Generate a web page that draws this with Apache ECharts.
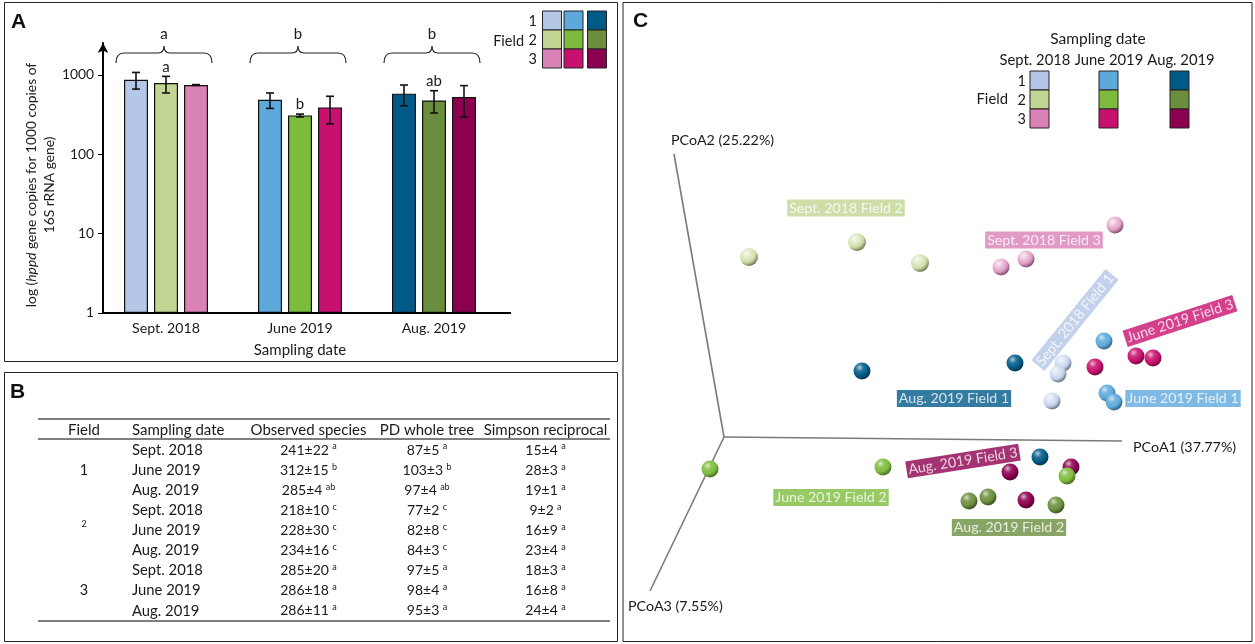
<!DOCTYPE html>
<html><head><meta charset="utf-8">
<script src="https://cdn.jsdelivr.net/npm/echarts@6/dist/echarts.min.js"></script>
<style>html,body{margin:0;padding:0;background:#fff}#c{width:1255px;height:644px}</style>
</head><body><div id="c"></div>
<script>
// ---------------- DATA ----------------
const dates = ['Sept. 2018', 'June 2019', 'Aug. 2019'];
const fields = ['1', '2', '3'];
// Panel A: hppd copies per 1000 16S copies (mean, error low, error high)
const field1Mean = [867, 484, 578];
const field1Low  = [660, 377, 407];
const field1High = [1070, 590, 743];
const field2Mean = [789, 308, 475];
const field2Low  = [590, 294, 330];
const field2High = [955, 320, 630];
const field3Mean = [743, 388, 525];
const field3Low  = [735, 241, 294];
const field3High = [752, 536, 730];
const field2Letters = ['a', 'b', 'ab'];
const dateLetters = ['a', 'b', 'b'];
const yTicks = [1, 10, 100, 1000];
// Panel B: alpha diversity table
const tableHeaders = ['Field', 'Sampling date', 'Observed species', 'PD whole tree', 'Simpson reciprocal'];
const tableDates = ['Sept. 2018', 'June 2019', 'Aug. 2019', 'Sept. 2018', 'June 2019', 'Aug. 2019', 'Sept. 2018', 'June 2019', 'Aug. 2019'];
const observedSpecies = ['241±22', '312±15', '285±4', '218±10', '228±30', '234±16', '285±20', '286±18', '286±11'];
const observedLetters = ['a', 'b', 'ab', 'c', 'c', 'c', 'a', 'a', 'a'];
const pdWholeTree = ['87±5', '103±3', '97±4', '77±2', '82±8', '84±3', '97±5', '98±4', '95±3'];
const pdLetters = ['a', 'b', 'ab', 'c', 'c', 'c', 'a', 'a', 'a'];
const simpsonReciprocal = ['15±4', '28±3', '19±1', '9±2', '16±9', '23±4', '18±3', '16±8', '24±4'];
const simpsonLetters = ['a', 'a', 'a', 'a', 'a', 'a', 'a', 'a', 'a'];
// Panel C: projected PCoA coordinates of the samples
const sept2018Field1 = [[3.39, 0.74], [3.34, 0.63], [3.28, 0.36]];
const sept2018Field2 = [[0.25, 1.80], [1.33, 1.95], [1.96, 1.74]];
const sept2018Field3 = [[2.77, 1.70], [3.02, 1.78], [3.91, 2.12]];
const june2019Field1 = [[3.80, 0.96], [3.83, 0.44], [3.90, 0.35]];
const june2019Field2 = [[-0.14, -0.32], [1.59, -0.30], [3.43, -0.39]];
const june2019Field3 = [[3.71, 0.70], [4.12, 0.81], [4.29, 0.79]];
const aug2019Field1 = [[1.38, 0.66], [2.91, 0.74], [3.16, -0.20]];
const aug2019Field2 = [[2.45, -0.64], [2.64, -0.60], [3.32, -0.68]];
const aug2019Field3 = [[2.86, -0.35], [3.02, -0.63], [3.47, -0.30]];
const pcoaAxisEnds = [[3.98, -0.04], [-0.50, 2.83], [-0.74, -1.54]];
const pcoaAxisNames = ['PCoA1 (37.77%)', 'PCoA2 (25.22%)', 'PCoA3 (7.55%)'];

// ---------------- STYLE ----------------
const FONT = 'Lato, "Open Sans", sans-serif';
const TXT = '#1a1a1a';
const palette = [
  ['#b4c7e7', '#5ea9dc', '#005a88'],
  ['#c3d592', '#7dbb3d', '#6b8e3e'],
  ['#da81b6', '#c8106e', '#8c0050']
];
function mix(hex, target, t) {
  const a = parseInt(hex.slice(1), 16), b = parseInt(target.slice(1), 16);
  const ch = s => [(s >> 16) & 255, (s >> 8) & 255, s & 255];
  const A = ch(a), B = ch(b);
  return 'rgb(' + A.map((v, i) => Math.round(v + (B[i] - v) * t)).join(',') + ')';
}

const chart = echarts.init(document.getElementById('c'));

// ---------- Panel A series ----------
const means = [field1Mean, field2Mean, field3Mean];
const lows = [field1Low, field2Low, field3Low];
const highs = [field1High, field2High, field3High];
const barOffsets = [-30, 0, 30];
const series = [];
fields.forEach((f, fi) => {
  series.push({
    type: 'bar', name: 'Field ' + f, xAxisIndex: 0, yAxisIndex: 0,
    barWidth: 24, barGap: '25%',
    itemStyle: { borderColor: '#111', borderWidth: 1.2 },
    data: means[fi].map((v, d) => ({ value: v, itemStyle: { color: palette[fi][d] } })),
    z: 2
  });
});
fields.forEach((f, fi) => {
  series.push({
    type: 'custom', xAxisIndex: 0, yAxisIndex: 0, z: 5, clip: false,
    data: dates.map((d, di) => [di, lows[fi][di], highs[fi][di]]),
    renderItem: (params, api) => {
      const di = api.value(0);
      const top = api.coord([di, api.value(2)]);
      const bot = api.coord([di, api.value(1)]);
      const x = top[0] + barOffsets[fi];
      const st = { stroke: '#111', lineWidth: 1.6 };
      const ch = [
        { type: 'line', shape: { x1: x, y1: top[1], x2: x, y2: bot[1] }, style: st },
        { type: 'line', shape: { x1: x - 4, y1: top[1], x2: x + 4, y2: top[1] }, style: st },
        { type: 'line', shape: { x1: x - 4, y1: bot[1], x2: x + 4, y2: bot[1] }, style: st }
      ];
      if (fi === 1) {
        ch.push({ type: 'text', x: x, y: top[1] - 2,
          style: { text: field2Letters[params.dataIndex], fontSize: 15, fontFamily: FONT, fill: TXT, align: 'center', verticalAlign: 'bottom' } });
      }
      return { type: 'group', children: ch };
    }
  });
});
// brackets with date letters
series.push({
  type: 'custom', xAxisIndex: 0, yAxisIndex: 0, z: 5, clip: false,
  data: dates.map((d, di) => [di, 2512]),
  renderItem: (params, api) => {
    const p = api.coord([api.value(0), api.value(1)]);
    const cx = p[0] - 2, t = p[1];
    const x0 = cx - 48, x1 = cx + 48, ye = t + 20, yb = t + 10, yp = t + 3;
    const path = `M${x0} ${ye} Q${x0} ${yb} ${x0 + 8} ${yb} L${cx - 6} ${yb} Q${cx} ${yb} ${cx} ${yp} Q${cx} ${yb} ${cx + 6} ${yb} L${x1 - 8} ${yb} Q${x1} ${yb} ${x1} ${ye}`;
    return { type: 'group', children: [
      { type: 'path', shape: { pathData: path }, style: { stroke: '#222', lineWidth: 1.2, fill: null } },
      { type: 'text', x: cx, y: t - 9, style: { text: dateLetters[params.dataIndex], fontSize: 15, fontFamily: FONT, fill: TXT, align: 'center', verticalAlign: 'middle' } }
    ] };
  }
});

// ---------- Panel C series ----------
const pcoaSets = [
  [sept2018Field2, 0, 1], [sept2018Field3, 0, 2], [aug2019Field1, 2, 0], [sept2018Field1, 0, 0],
  [june2019Field1, 1, 0], [june2019Field3, 1, 2], [aug2019Field2, 2, 1], [aug2019Field3, 2, 2], [june2019Field2, 1, 1]
];
function sphere(base, light) {
  return new echarts.graphic.RadialGradient(0.36, 0.3, 0.75, [
    { offset: 0, color: mix(base, '#ffffff', light ? 0.85 : 0.7) },
    { offset: 0.3, color: mix(base, '#ffffff', light ? 0.55 : 0.15) },
    { offset: 0.65, color: light ? mix(base, '#ffffff', 0.2) : base },
    { offset: 1, color: mix(base, '#000000', 0.5) }
  ]);
}
series.push({
  type: 'lines', coordinateSystem: 'cartesian2d', xAxisIndex: 1, yAxisIndex: 1, silent: true, z: 1,
  lineStyle: { color: '#7a7a7a', width: 1.6, opacity: 1 },
  data: pcoaAxisEnds.map(e => ({ coords: [[0, 0], e] }))
});
pcoaSets.forEach(([pts, d, f]) => {
  const base = palette[f][d];
  series.push({
    type: 'scatter', name: dates[d] + ' Field ' + fields[f], xAxisIndex: 1, yAxisIndex: 1,
    symbolSize: d === 0 && f === 1 ? 18 : 17,
    itemStyle: { color: sphere(base, d === 0), opacity: 1 },
    data: pts, z: 3
  });
});
// annotations (label boxes) in the same projected coordinates
const annotations = [
  { name: 'Sept. 2018 Field 2', pos: [1.22, 2.29], rotate: 0, d: 0, f: 1 },
  { name: 'Sept. 2018 Field 3', pos: [3.20, 1.97], rotate: 0, d: 0, f: 2 },
  { name: 'Sept. 2018 Field 1', pos: [3.51, 1.17], rotate: 51, d: 0, f: 0 },
  { name: 'June 2019 Field 3', pos: [4.56, 1.16], rotate: 18, d: 1, f: 2 },
  { name: 'June 2019 Field 1', pos: [4.59, 0.385], rotate: 0, d: 1, f: 0 },
  { name: 'Aug. 2019 Field 1', pos: [2.30, 0.385], rotate: 0, d: 2, f: 0 },
  { name: 'Aug. 2019 Field 3', pos: [2.39, -0.24], rotate: 9, d: 2, f: 2 },
  { name: 'June 2019 Field 2', pos: [1.07, -0.605], rotate: 0, d: 1, f: 1 },
  { name: 'Aug. 2019 Field 2', pos: [2.85, -0.905], rotate: 0, d: 2, f: 1 }
];
series.push({
  type: 'scatter', xAxisIndex: 1, yAxisIndex: 1, symbolSize: 1, silent: true, z: 4,
  itemStyle: { color: 'transparent' },
  data: annotations.map(a => ({
    value: a.pos, name: a.name,
    label: { show: true, position: 'inside', rotate: a.rotate, formatter: '{b}',
      color: '#fff', fontSize: 14.2, fontFamily: FONT, backgroundColor: palette[a.f][a.d], padding: [2, 2, 1, 2] }
  }))
});

// ---------------- GRAPHICS ----------------
const g = [];
// panel frames
[[4.5, 2.5, 613, 359], [4.5, 372.5, 613, 269], [623, 2.5, 629, 639]].forEach(r => {
  g.push({ type: 'rect', shape: { x: r[0], y: r[1], width: r[2], height: r[3] }, style: { fill: null, stroke: '#222', lineWidth: 1 }, z: 0 });
});
[['A', 11, 22], ['B', 10, 392], ['C', 633, 21]].forEach(t => {
  g.push({ type: 'text', x: t[1], y: t[2], style: { text: t[0], fontSize: 21, fontWeight: 'bold', fontFamily: '"Liberation Sans", Arial, sans-serif', fill: '#111', verticalAlign: 'middle' } });
});
// panel A baseline and y title
g.push({ type: 'line', shape: { x1: 102, y1: 313, x2: 511, y2: 313 }, style: { stroke: '#000', lineWidth: 2 }, z: 10 });
g.push({ type: 'text', x: 41, y: 185, rotation: Math.PI / 2,
  style: { text: '{n|log (}{i|hppd}{n| gene copies for 1000 copies of}\n{n|16S rRNA gene)}', align: 'center', verticalAlign: 'middle',
    rich: { n: { fontSize: 13.8, fontFamily: FONT, fill: TXT, lineHeight: 18 }, i: { fontSize: 13.8, fontFamily: FONT, fontStyle: 'italic', fill: TXT, lineHeight: 18 } } } });
// panel A legend
const legALeft = [542.5, 564, 587.5], legATop = [11, 30, 49];
palette.forEach((row, fi) => row.forEach((c, di) => {
  g.push({ type: 'rect', shape: { x: legALeft[di], y: legATop[fi], width: 19, height: 19 }, style: { fill: c, stroke: '#222', lineWidth: 1 } });
}));
fields.forEach((f, fi) => g.push({ type: 'text', x: 537, y: legATop[fi] + 10, style: { text: f, fontSize: 14.5, fontFamily: FONT, fill: TXT, align: 'right', verticalAlign: 'middle' } }));
g.push({ type: 'text', x: 524, y: 41, style: { text: 'Field', fontSize: 14.5, fontFamily: FONT, fill: TXT, align: 'right', verticalAlign: 'middle' } });

// panel B table
const colX = [84, 132, 308.5, 427, 545.5];
const colAlign = ['center', 'left', 'center', 'center', 'center'];
const rowY0 = 450, rowStep = 20.1;
[419, 439, 621].forEach(y => g.push({ type: 'line', shape: { x1: 38, y1: y, x2: 610, y2: y }, style: { stroke: '#555', lineWidth: 1.6 } }));
tableHeaders.forEach((h, i) => g.push({ type: 'text', x: colX[i], y: 430, style: { text: h, fontSize: 15, fontFamily: FONT, fill: TXT, align: colAlign[i], verticalAlign: 'middle' } }));
const richCell = { v: { fontSize: 14, fontFamily: FONT, fill: TXT, lineHeight: 16 }, s: { fontSize: 9, fontFamily: FONT, fill: TXT, lineHeight: 10, verticalAlign: 'top' } };
tableDates.forEach((d, r) => {
  const y = rowY0 + r * rowStep;
  g.push({ type: 'text', x: colX[1], y, style: { text: d, fontSize: 14.8, fontFamily: FONT, fill: TXT, align: 'left', verticalAlign: 'middle' } });
  [[observedSpecies, observedLetters], [pdWholeTree, pdLetters], [simpsonReciprocal, simpsonLetters]].forEach((col, ci) => {
    g.push({ type: 'text', x: colX[ci + 2], y, style: { text: `{v|${col[0][r]}} {s|${col[1][r]}}`, rich: richCell, align: 'center', verticalAlign: 'middle' } });
  });
});
g.push({ type: 'text', x: colX[0], y: rowY0 + 1 * rowStep, style: { text: fields[0], fontSize: 14.5, fontFamily: FONT, fill: TXT, align: 'center', verticalAlign: 'middle' } });
g.push({ type: 'text', x: colX[0], y: rowY0 + 4 * rowStep - 6, style: { text: fields[1], fontSize: 9, fontFamily: FONT, fill: TXT, align: 'center', verticalAlign: 'middle' } });
g.push({ type: 'text', x: colX[0], y: rowY0 + 7 * rowStep, style: { text: fields[2], fontSize: 14.5, fontFamily: FONT, fill: TXT, align: 'center', verticalAlign: 'middle' } });

// panel C legend
const legCLeft = [1030, 1099, 1170], legCTop = [71, 90, 109];
palette.forEach((row, fi) => row.forEach((c, di) => {
  g.push({ type: 'rect', shape: { x: legCLeft[di], y: legCTop[fi], width: 19, height: 19 }, style: { fill: c, stroke: '#222', lineWidth: 1 } });
}));
g.push({ type: 'text', x: 1098, y: 39, style: { text: 'Sampling date', fontSize: 15.5, fontFamily: FONT, fill: TXT, align: 'center', verticalAlign: 'middle' } });
[1035, 1109, 1181].forEach((x, di) => g.push({ type: 'text', x, y: 60, style: { text: dates[di], fontSize: 14.8, fontFamily: FONT, fill: TXT, align: 'center', verticalAlign: 'middle' } }));
fields.forEach((f, fi) => g.push({ type: 'text', x: 1026, y: legCTop[fi] + 10, style: { text: f, fontSize: 14.5, fontFamily: FONT, fill: TXT, align: 'right', verticalAlign: 'middle' } }));
g.push({ type: 'text', x: 1008, y: 99, style: { text: 'Field', fontSize: 14.8, fontFamily: FONT, fill: TXT, align: 'right', verticalAlign: 'middle' } });
// PCoA axis names
[[1133, 447], [671, 140], [628, 606]].forEach((p, i) => g.push({ type: 'text', x: p[0], y: p[1], style: { text: pcoaAxisNames[i], fontSize: 14.3, fontFamily: FONT, fill: TXT, align: 'left', verticalAlign: 'middle' } }));

chart.setOption({
  animation: false,
  textStyle: { fontFamily: FONT },
  grid: [
    { left: 99, top: 43, width: 402, height: 270 },
    { left: 623, top: 3, width: 629, height: 638 }
  ],
  xAxis: [
    { gridIndex: 0, type: 'category', data: dates,
      axisLine: { show: false }, axisTick: { show: false },
      axisLabel: { fontSize: 14.2, color: TXT, margin: 8, fontFamily: FONT },
      name: 'Sampling date', nameLocation: 'middle', nameGap: 30,
      nameTextStyle: { fontSize: 15, color: TXT, fontFamily: FONT } },
    { gridIndex: 1, type: 'value', min: -1.01, max: 5.28, show: false }
  ],
  yAxis: [
    { gridIndex: 0, type: 'log', logBase: 10, min: 1, max: 2512, offset: -4,
      axisLine: { show: true, lineStyle: { color: '#000', width: 2 }, symbol: ['none', 'arrow'], symbolSize: [8, 10] },
      axisTick: { show: true, length: 5, lineStyle: { color: '#000', width: 1 }, customValues: yTicks },
      axisLabel: { fontSize: 13.8, color: TXT, margin: 9, customValues: yTicks, fontFamily: FONT, formatter: v => String(Math.round(v)) },
      splitLine: { show: false } },
    { gridIndex: 1, type: 'value', min: -2.04, max: 4.34, show: false }
  ],
  series: series,
  graphic: g
});
</script></body></html>
